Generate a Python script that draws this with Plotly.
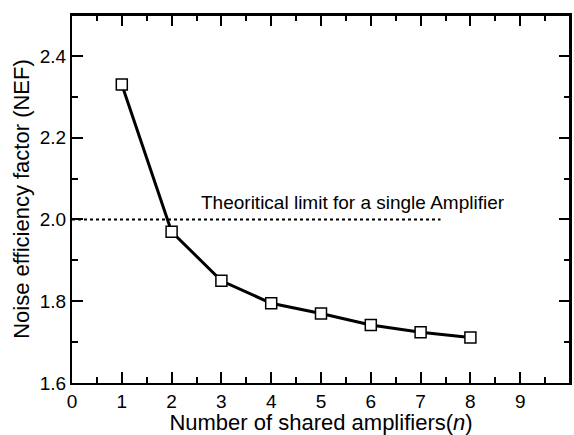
import plotly.graph_objects as go

n_values = [1, 2, 3, 4, 5, 6, 7, 8]
nef_values = [2.33, 1.97, 1.85, 1.795, 1.77, 1.742, 1.724, 1.711]
limit_x = [0, 7.4]
limit_y = [2.0, 2.0]
limit_label = "Theoritical limit for a single Amplifier"
x_ticks = list(range(0, 10))
y_ticks = [1.6, 1.8, 2.0, 2.2, 2.4]
y_ticktext = ["1.6", "1.8", "2.0", "2.2", "2.4"]
x_range = [0, 10]
y_range = [1.6, 2.5]

FONT = "Arial, Liberation Sans, sans-serif"

fig = go.Figure()
fig.add_trace(go.Scatter(x=limit_x, y=limit_y, mode="lines",
                         line=dict(color="black", width=2, dash="dot"),
                         showlegend=False, hoverinfo="skip"))
fig.add_trace(go.Scatter(x=n_values, y=nef_values, mode="lines+markers",
                         line=dict(color="black", width=3),
                         marker=dict(symbol="square", size=11, color="white",
                                     line=dict(color="black", width=1.5)),
                         showlegend=False))
# top and right frame edges, drawn along the axis ranges
fig.add_trace(go.Scatter(x=[x_range[0], x_range[1], x_range[1]],
                         y=[y_range[1], y_range[1], y_range[0]],
                         mode="lines", line=dict(color="black", width=2),
                         cliponaxis=False, showlegend=False, hoverinfo="skip"))
fig.add_annotation(x=2.55, y=2.0, xref="x", yref="y", text=limit_label,
                   showarrow=False, xanchor="left", yanchor="bottom", yshift=4,
                   font=dict(family=FONT, size=19, color="black"))

tick_common = dict(ticks="inside", tickcolor="black", tickwidth=2, ticklen=11,
                   showgrid=False, zeroline=False, automargin=False,
                   tickfont=dict(family=FONT, size=19, color="black"))
x_minor = dict(ticks="inside", dtick=0.5, tick0=0, ticklen=6, tickwidth=2, tickcolor="black")
y_minor = dict(ticks="inside", dtick=0.1, tick0=1.6, ticklen=6, tickwidth=2, tickcolor="black")

fig.update_layout(
    width=574, height=435, margin=dict(l=72, r=4, t=15, b=52),
    plot_bgcolor="white", paper_bgcolor="white",
    font=dict(family=FONT, color="black"),
    xaxis=dict(range=x_range, tickvals=x_ticks, minor=x_minor,
               showline=True, linecolor="black", linewidth=2, mirror="allticks",
               title=dict(text="Number of shared amplifiers(<i>n</i>)", standoff=0,
                          font=dict(family=FONT, size=22, color="black")),
               **tick_common),
    yaxis=dict(range=y_range, tickvals=y_ticks, ticktext=y_ticktext, minor=y_minor,
               showline=True, linecolor="black", linewidth=2, mirror="allticks",
               title=dict(text="Noise efficiency factor (NEF)", standoff=4,
                          font=dict(family=FONT, size=22, color="black")),
               **tick_common),
)

fig.write_html("out.html", config={"displayModeBar": False},
               post_script="document.body.style.margin='0';document.body.style.overflow='hidden';")
